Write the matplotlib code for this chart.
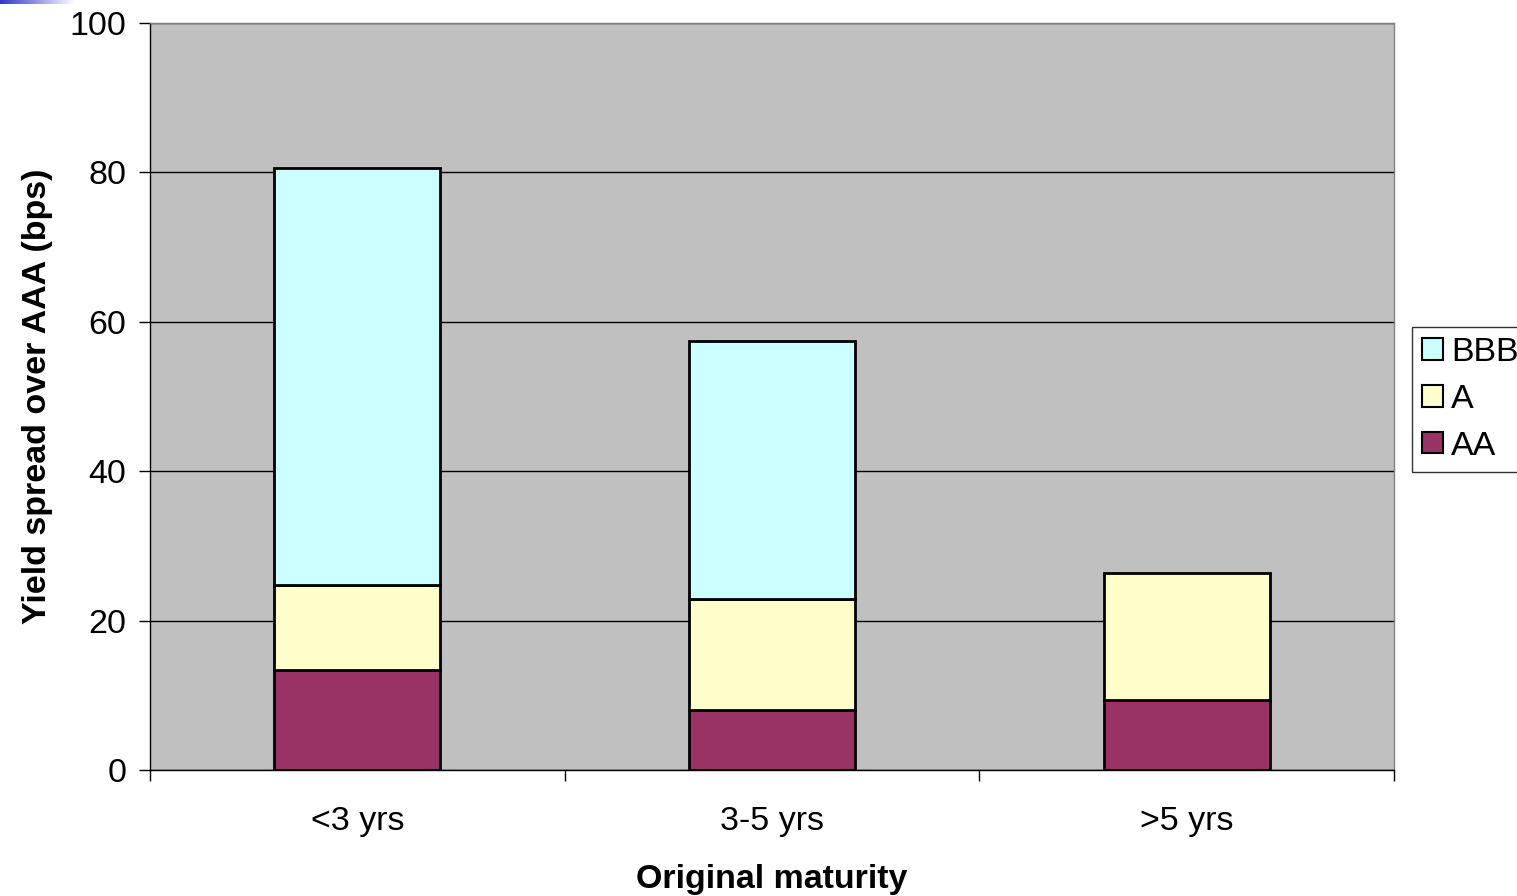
import numpy as np
import matplotlib.pyplot as plt

plt.rcParams['font.family'] = ['Liberation Sans', 'DejaVu Sans']

categories = ['<3 yrs', '3-5 yrs', '>5 yrs']
aa = [13.4, 8.0, 9.4]
a = [11.4, 14.9, 17.0]
bbb = [55.8, 34.5, 0.0]
yticks = [0, 20, 40, 60, 80, 100]

FS = 24.5

fig = plt.figure(figsize=(15.17, 8.96), dpi=100)
ax = fig.add_axes([150 / 1517, (896 - 770) / 896, 1244 / 1517, 747 / 896])
ax.set_facecolor('#C0C0C0')

x = np.arange(len(categories))
w = 0.4
kw = dict(width=w, edgecolor='black', linewidth=2, zorder=3)
b1 = ax.bar(x, aa, color='#993366', label='AA', **kw)
b2 = ax.bar(x, a, bottom=aa, color='#FFFFCC', label='A', **kw)
bottom2 = np.array(aa) + np.array(a)
mask = np.array(bbb) > 0
b3 = ax.bar(x[mask], np.array(bbb)[mask], bottom=bottom2[mask], color='#CCFFFF', label='BBB', **kw)

ax.set_xlim(-0.5, 2.5)
ax.set_ylim(0, 100)
ax.set_yticks(yticks)
ax.set_xticks(x)
ax.set_xticklabels(categories)
ax.tick_params(axis='x', length=0, pad=26, labelsize=FS)
ax.set_xticks([-0.5, 0.5, 1.5, 2.5], minor=True)
ax.tick_params(axis='x', which='minor', length=8, width=1, direction='out')
ax.tick_params(axis='y', length=8, width=1, direction='out', labelsize=FS, pad=9)
ax.yaxis.grid(True, color='black', linewidth=1, zorder=1)
ax.set_axisbelow(True)

for s in ['top', 'right']:
    ax.spines[s].set_color('#808080')
    ax.spines[s].set_linewidth(1)
for s in ['left', 'bottom']:
    ax.spines[s].set_color('black')
    ax.spines[s].set_linewidth(1)

ax.set_xlabel('Original maturity', fontsize=FS, fontweight='bold', labelpad=19)
ax.set_ylabel('Yield spread over AAA (bps)', fontsize=FS, fontweight='bold', labelpad=12)

leg = ax.legend(handles=[b3, b2, b1], labels=['BBB', 'A', 'AA'],
                loc='upper left', bbox_to_anchor=(1412 / 1517, 1 - 327 / 896),
                bbox_transform=fig.transFigure, fontsize=FS, frameon=True,
                fancybox=False, edgecolor='black', handlelength=0.6,
                handleheight=0.6, handletextpad=0.25, borderpad=0.3,
                labelspacing=0.46, borderaxespad=0)
leg.get_frame().set_linewidth(1)
for h in leg.legend_handles:
    h.set_linewidth(1.5)

# slide accent bar in the corner
grad = np.linspace(0, 1, 256).reshape(1, -1)
cax = fig.add_axes([0, 1 - 4 / 896, 75 / 1517, 4 / 896])
cmap = plt.matplotlib.colors.LinearSegmentedColormap.from_list('acc', ['#3333CC', '#FFFFFF'])
cax.imshow(grad, aspect='auto', cmap=cmap)
cax.axis('off')

fig.savefig('out.png', dpi=100)
